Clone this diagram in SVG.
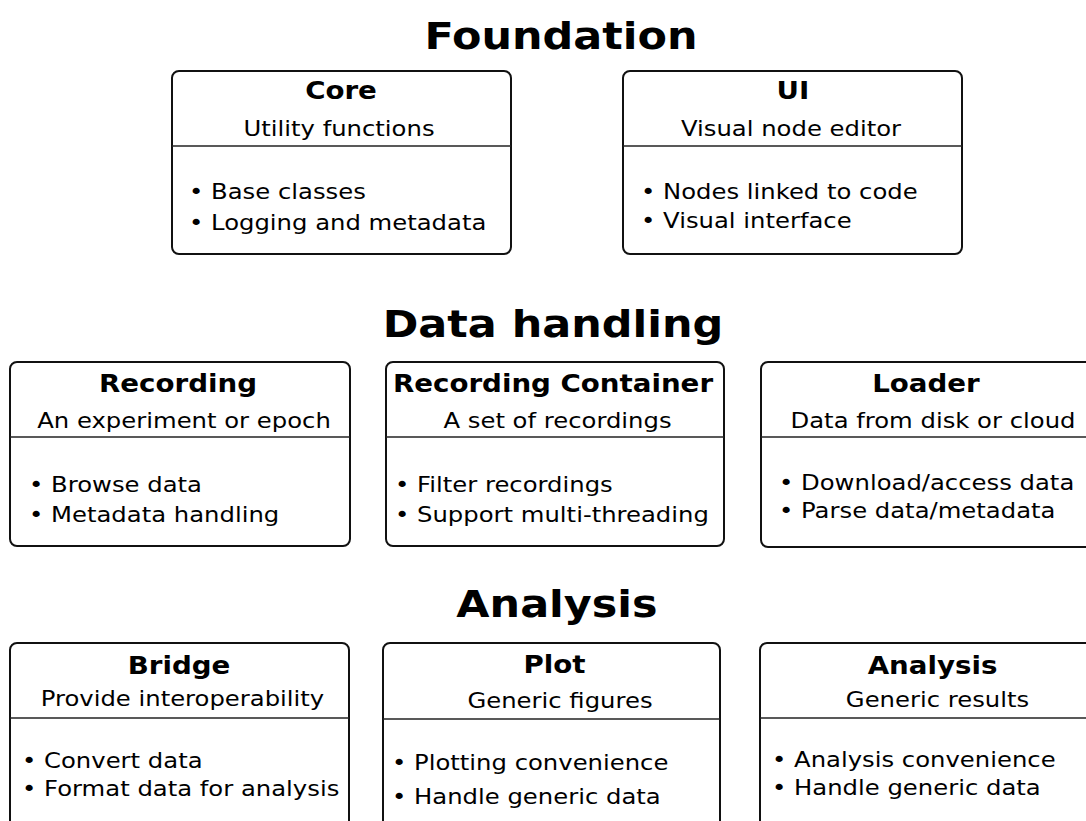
<svg xmlns="http://www.w3.org/2000/svg" width="1086" height="821" viewBox="0 0 1086 821">
  <style>
    .box { fill: #ffffff; stroke: #111111; stroke-width: 2; }
    .div { stroke: #222222; stroke-width: 1.5; }
    .hd { font-family: "DejaVu Sans", Verdana, sans-serif; font-weight: bold; font-size: 38px; fill: #000; text-anchor: middle; }
    .tt { font-family: "DejaVu Sans", Verdana, sans-serif; font-weight: bold; font-size: 24.5px; fill: #000; text-anchor: middle; }
    .st { font-family: "DejaVu Sans", Verdana, sans-serif; font-size: 21.5px; fill: #000; text-anchor: middle; }
    .bl { font-family: "DejaVu Sans", Verdana, sans-serif; font-size: 21.5px; fill: #000; }
  </style>
  <rect width="1086" height="821" fill="#ffffff"/>

  <!-- section headings -->
  <g id="headings">
    <text class="hd" transform="translate(561 48.5) scale(1.13 1)">Foundation</text>
    <text class="hd" transform="translate(553 336.5) scale(1.13 1)">Data handling</text>
    <text class="hd" transform="translate(557 616.5) scale(1.13 1)">Analysis</text>
  </g>

  <!-- Foundation row -->
  <g id="core">
    <rect class="box" x="172" y="71" width="339" height="183" rx="7"/>
    <line class="div" x1="172" y1="146" x2="511" y2="146"/>
    <text class="tt" transform="translate(341 99) scale(1.13 1)">Core</text>
    <text class="st" transform="translate(339 136) scale(1.13 1)">Utility functions</text>
    <text class="bl" transform="translate(189 199) scale(1.13 1)">• Base classes</text>
    <text class="bl" transform="translate(189 230) scale(1.13 1)">• Logging and metadata</text>
  </g>
  <g id="ui">
    <rect class="box" x="623" y="71" width="339" height="183" rx="7"/>
    <line class="div" x1="623" y1="146" x2="962" y2="146"/>
    <text class="tt" transform="translate(793 99) scale(1.13 1)">UI</text>
    <text class="st" transform="translate(791 136) scale(1.13 1)">Visual node editor</text>
    <text class="bl" transform="translate(641 199) scale(1.13 1)">• Nodes linked to code</text>
    <text class="bl" transform="translate(641 228) scale(1.13 1)">• Visual interface</text>
  </g>

  <!-- Data handling row -->
  <g id="recording">
    <rect class="box" x="10" y="362" width="340" height="184" rx="7"/>
    <line class="div" x1="10" y1="437" x2="350" y2="437"/>
    <text class="tt" transform="translate(178 392) scale(1.13 1)">Recording</text>
    <text class="st" transform="translate(184 428) scale(1.13 1)">An experiment or epoch</text>
    <text class="bl" transform="translate(29 492) scale(1.13 1)">• Browse data</text>
    <text class="bl" transform="translate(29 522) scale(1.13 1)">• Metadata handling</text>
  </g>
  <g id="recording-container">
    <rect class="box" x="386" y="362" width="338" height="184" rx="7"/>
    <line class="div" x1="386" y1="437" x2="724" y2="437"/>
    <text class="tt" transform="translate(553 392) scale(1.13 1)">Recording Container</text>
    <text class="st" transform="translate(557.5 428) scale(1.13 1)">A set of recordings</text>
    <text class="bl" transform="translate(395 492) scale(1.13 1)">• Filter recordings</text>
    <text class="bl" transform="translate(395 522) scale(1.13 1)">• Support multi-threading</text>
  </g>
  <g id="loader">
    <rect class="box" x="761" y="362" width="340" height="185" rx="7"/>
    <line class="div" x1="761" y1="437" x2="1101" y2="437"/>
    <text class="tt" transform="translate(926 392) scale(1.13 1)">Loader</text>
    <text class="st" transform="translate(933 428) scale(1.13 1)">Data from disk or cloud</text>
    <text class="bl" transform="translate(779 490) scale(1.13 1)">• Download/access data</text>
    <text class="bl" transform="translate(779 518) scale(1.13 1)">• Parse data/metadata</text>
  </g>

  <!-- Analysis row -->
  <g id="bridge">
    <rect class="box" x="10" y="643" width="339" height="195" rx="7"/>
    <line class="div" x1="10" y1="718" x2="349" y2="718"/>
    <text class="tt" transform="translate(179 674) scale(1.13 1)">Bridge</text>
    <text class="st" transform="translate(182.5 706) scale(1.13 1)">Provide interoperability</text>
    <text class="bl" transform="translate(22 768) scale(1.13 1)">• Convert data</text>
    <text class="bl" transform="translate(22 796) scale(1.13 1)">• Format data for analysis</text>
  </g>
  <g id="plot">
    <rect class="box" x="383" y="643" width="337" height="195" rx="7"/>
    <line class="div" x1="383" y1="719" x2="720" y2="719"/>
    <text class="tt" transform="translate(554.5 673) scale(1.13 1)">Plot</text>
    <text class="st" transform="translate(560 708) scale(1.13 1)">Generic figures</text>
    <text class="bl" transform="translate(392 770) scale(1.13 1)">• Plotting convenience</text>
    <text class="bl" transform="translate(392 804) scale(1.13 1)">• Handle generic data</text>
  </g>
  <g id="analysis">
    <rect class="box" x="760" y="643" width="340" height="195" rx="7"/>
    <line class="div" x1="760" y1="718" x2="1100" y2="718"/>
    <text class="tt" transform="translate(932.5 674) scale(1.13 1)">Analysis</text>
    <text class="st" transform="translate(937.5 707) scale(1.13 1)">Generic results</text>
    <text class="bl" transform="translate(772 767) scale(1.13 1)">• Analysis convenience</text>
    <text class="bl" transform="translate(772 795) scale(1.13 1)">• Handle generic data</text>
  </g>

  <!-- no connectors are drawn between these modules -->
  <g id="connectors"/>
</svg>
